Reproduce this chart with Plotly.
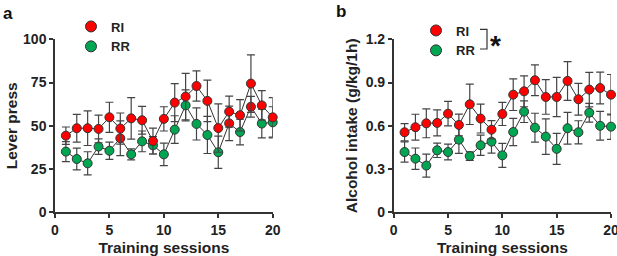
import plotly.graph_objects as go

sessions = list(range(1, 21))

# Panel a: lever press
lever_ri = [44.3, 48.6, 48.6, 48.2, 54.9, 48.4, 54.3, 53.2, 41.2, 54.0,
            63.4, 66.9, 73.0, 64.4, 48.7, 58.2, 56.1, 74.4, 61.8, 54.9]
lever_ri_err = [5, 8, 10, 8, 8.7, 9, 12, 8, 7.5, 7,
                11, 13.4, 8.7, 12, 14, 9, 9, 16.6, 8.5, 11.4]
lever_rr = [35.1, 30.8, 28.3, 38.0, 35.6, 42.8, 33.5, 41.0, 38.7, 33.5,
            47.8, 61.8, 51.1, 44.7, 34.7, 51.4, 46.4, 61.0, 51.3, 52.0]
lever_rr_err = [5.8, 6.3, 6.7, 4.5, 5, 10, 3.2, 6, 5, 6.5,
                8, 9, 9.3, 10.7, 9.3, 10, 7.4, 6, 8.3, 9]

# Panel b: alcohol intake
alc_ri = [0.555, 0.59, 0.617, 0.62, 0.684, 0.606, 0.749, 0.65, 0.573, 0.682,
          0.816, 0.839, 0.916, 0.80, 0.80, 0.911, 0.784, 0.851, 0.862, 0.816]
alc_ri_err = [0.06, 0.09, 0.10, 0.09, 0.085, 0.075, 0.14, 0.10, 0.063, 0.08,
              0.11, 0.107, 0.106, 0.12, 0.136, 0.134, 0.11, 0.12, 0.11, 0.14]
alc_rr = [0.418, 0.372, 0.324, 0.43, 0.418, 0.504, 0.39, 0.465, 0.49, 0.395,
          0.557, 0.698, 0.587, 0.525, 0.44, 0.583, 0.555, 0.691, 0.60, 0.594]
alc_rr_err = [0.07, 0.074, 0.08, 0.05, 0.055, 0.095, 0.03, 0.07, 0.08, 0.083,
              0.095, 0.075, 0.10, 0.123, 0.107, 0.11, 0.08, 0.065, 0.10, 0.088]

x_ticks = [0, 5, 10, 15, 20]
lever_ticks = [0, 25, 50, 75, 100]
alc_ticks = [0, 0.3, 0.6, 0.9, 1.2]
alc_tick_text = ["0", "0.3", "0.6", "0.9", "1.2"]

RED = "#ff0000"
GREEN = "#00a651"
DARK = "#333333"
FONT = "Liberation Sans, Arial, sans-serif"

# In the reference panel a, a few RR markers are drawn in red
rr_colors_a = [RED if s in (6, 16, 18) else GREEN for s in sessions]

fig = go.Figure()


def add_series(x, y, err, color, xa, ya):
    fig.add_trace(go.Scatter(
        x=x, y=y, mode="lines+markers", xaxis=xa, yaxis=ya,
        line=dict(color=DARK, width=1),
        marker=dict(size=9, color=color, line=dict(color=DARK, width=1)),
        error_y=dict(type="data", array=err, visible=True, color="#444444",
                     thickness=1.2, width=4),
        showlegend=False, cliponaxis=False, hoverinfo="skip"))


add_series(sessions, lever_rr, lever_rr_err, rr_colors_a, "x", "y")
add_series(sessions, lever_ri, lever_ri_err, RED, "x", "y")
add_series(sessions, alc_rr, alc_rr_err, GREEN, "x2", "y2")
add_series(sessions, alc_ri, alc_ri_err, RED, "x2", "y2")

# legend entries
for name, col, leg, xa, ya in [("RI", RED, "legend", "x", "y"),
                               ("RR", GREEN, "legend", "x", "y"),
                               ("RI", RED, "legend2", "x2", "y2"),
                               ("RR", GREEN, "legend2", "x2", "y2")]:
    fig.add_trace(go.Scatter(
        x=[None], y=[None], mode="markers", name=name, legend=leg,
        xaxis=xa, yaxis=ya,
        marker=dict(size=11, color=col, line=dict(color=DARK, width=1))))

W, H = 617, 256
def px(x): return x / W
def py(y): return 1 - y / H

axis_common = dict(showline=True, linecolor=DARK, linewidth=1.5,
                   ticks="outside", ticklen=4, tickwidth=1.5, tickcolor=DARK,
                   showgrid=False, zeroline=False, automargin=False,
                   ticklabeloverflow="allow",
                   tickfont=dict(family=FONT, size=14, color="#222222", weight="bold"))
title_font = dict(family=FONT, size=15.5, color="#222222", weight="bold")
legend_font = dict(family=FONT, size=13, color="#222222", weight="bold")

fig.update_layout(
    width=W, height=H,
    margin=dict(l=0, r=0, t=0, b=0, autoexpand=False),
    plot_bgcolor="white", paper_bgcolor="white",
    xaxis=dict(domain=[px(55), px(272.7)], range=[0, 20], tickvals=x_ticks,
               title=dict(text="Training sessions", font=title_font, standoff=8),
               anchor="y", **axis_common),
    yaxis=dict(domain=[py(212.3), py(39.3)], range=[0, 100], tickvals=lever_ticks,
               title=dict(text="Lever press", font=title_font, standoff=2),
               anchor="x", **axis_common),
    xaxis2=dict(domain=[px(393.7), px(611)], range=[0, 20], tickvals=x_ticks,
                title=dict(text="Training sessions", font=title_font, standoff=8),
                anchor="y2", **axis_common),
    yaxis2=dict(domain=[py(212.3), py(39.3)], range=[0, 1.2], tickvals=alc_ticks,
                ticktext=alc_tick_text,
                title=dict(text="Alcohol intake (g/kg/1h)", font=title_font, standoff=4),
                anchor="x2", **axis_common),
    legend=dict(x=px(71), y=py(11.5), xanchor="left", yanchor="top",
                bgcolor="rgba(0,0,0,0)", itemwidth=30, tracegroupgap=0,
                font=legend_font),
    legend2=dict(x=px(416), y=py(15.5), xanchor="left", yanchor="top",
                 bgcolor="rgba(0,0,0,0)", itemwidth=30, tracegroupgap=0,
                 font=legend_font),
)

# significance bracket and asterisk in panel b
fig.add_shape(type="path", xref="paper", yref="paper",
              path=f"M {px(480)} {py(29.3)} L {px(487)} {py(29.3)} L {px(487)} {py(49)} L {px(480)} {py(49)}",
              line=dict(color=DARK, width=1.2))
fig.add_annotation(x=px(495), y=py(39), xref="paper", yref="paper",
                   text="*", showarrow=False, xanchor="center", yanchor="middle",
                   font=dict(family=FONT, size=28, color="#111111", weight="bold"), yshift=-6)

# panel labels
fig.add_annotation(x=px(1), y=py(2), xref="paper", yref="paper", text="a",
                   showarrow=False, xanchor="left", yanchor="top",
                   font=dict(family=FONT, size=17, color="#111111", weight="bold"))
fig.add_annotation(x=px(334), y=py(0), xref="paper", yref="paper", text="b",
                   showarrow=False, xanchor="left", yanchor="top",
                   font=dict(family=FONT, size=17, color="#111111", weight="bold"))

fig.write_html("out.html", config={"displayModeBar": False},
               post_script="document.body.style.margin='0';document.body.style.overflow='hidden';")
